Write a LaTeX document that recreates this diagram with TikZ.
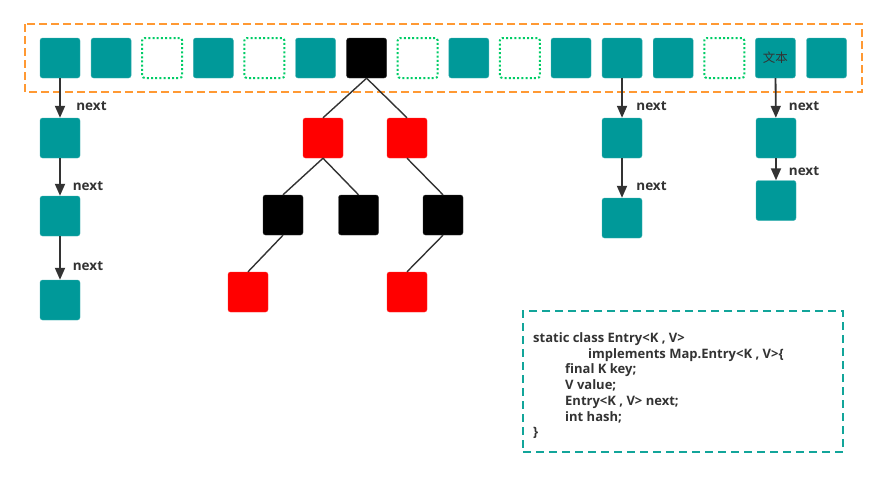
\documentclass[tikz,border=0pt]{standalone}
\usepackage{fontspec}
\setmainfont{Open Sans}
\newfontfamily\cjk{Noto Sans CJK SC}
\usetikzlibrary{arrows.meta}

\definecolor{bucketteal}{HTML}{009999}
\definecolor{slotgreen}{HTML}{00CC66}
\definecolor{tableorange}{HTML}{FF9933}
\definecolor{codeteal}{HTML}{12A59A}
\definecolor{linkgray}{HTML}{333333}

\begin{document}
\begin{tikzpicture}[x=1pt,y=-1pt,
  entry/.style={draw=bucketteal!75!white, fill=bucketteal, rounded corners=2.5pt,
    minimum size=40pt, inner sep=0pt},
  slot/.style={draw=slotgreen, line width=2pt, dash pattern=on 2pt off 2.2pt,
    rounded corners=2.5pt, minimum size=40pt, inner sep=0pt},
  blackbox/.style={entry, draw=black!80, fill=black},
  redbox/.style={entry, draw=red!80, fill=red},
  nextarrow/.style={draw=linkgray, line width=1.8pt,
    -{Triangle[length=12pt,width=10pt]}},
  treeedge/.style={draw=linkgray, line width=1.4pt},
  nextlabel/.style={text=linkgray, font=\bfseries\fontsize{13.5}{13.5}\selectfont, inner sep=0pt}]
  \useasboundingbox (0,0) rectangle (887,477);

  % table
  \draw [tableorange, line width=2pt, dash pattern=on 8pt off 4pt] (25,24) rectangle (862,92);
  \foreach \i/\k in {1/entry,2/entry,3/slot,4/entry,5/slot,6/entry,7/blackbox,8/slot,
      9/entry,10/slot,11/entry,12/entry,13/entry,14/slot,15/entry,16/entry}
    \node [\k] (b\i) at ({60+51.1*(\i-1)},58) {};
  \node [text=linkgray, font=\cjk\fontsize{12.5}{12.5}\selectfont, inner sep=0pt] (word) at (b15) {文本};

  % linked list 1
  \node [entry] (n1) at (60,138) {};
  \node [entry] (n2) at (60,216) {};
  \node [entry] (n3) at (60,300) {};
  \draw [nextarrow] (b1) -- (n1);
  \draw [nextarrow] (n1) -- (n2);
  \draw [nextarrow] (n2) -- (n3);
  \node [nextlabel] (l1) at (91.5,106) {next};
  \node [nextlabel] (l2) at (88,186) {next};
  \node [nextlabel] (l3) at (88,266) {next};

  % red-black tree
  \node [redbox] (r1) at (323,138) {};
  \node [redbox] (r2) at (407,138) {};
  \node [blackbox] (k1) at (283,215) {};
  \node [blackbox] (k2) at (358.5,215) {};
  \node [blackbox] (k3) at (443,215) {};
  \node [redbox] (r3) at (248,292) {};
  \node [redbox] (r4) at (407,292) {};
  \draw [treeedge] (b7.south) -- (r1.north);
  \draw [treeedge] (b7.south) -- (r2.north);
  \draw [treeedge] (r1.south) -- (k1.north);
  \draw [treeedge] (r1.south) -- (k2.north);
  \draw [treeedge] (r2.south) -- (k3.north);
  \draw [treeedge] (k1.south) -- (r3.north);
  \draw [treeedge] (k3.south) -- (r4.north);

  % linked lists 2 and 3
  \node [entry] (c1) at (622,138) {};
  \node [entry] (c2) at (622,218) {};
  \draw [nextarrow] (b12) -- (c1);
  \draw [nextarrow] (c1) -- (c2);
  \node [nextlabel] (l4) at (651.5,106) {next};
  \node [nextlabel] (l5) at (651.5,186) {next};
  \node [entry] (d1) at (776,138) {};
  \node [entry] (d2) at (776,200.5) {};
  \draw [nextarrow] (b15) -- (d1);
  \draw [nextarrow] (d1) -- (d2);
  \node [nextlabel] (l6) at (804,106) {next};
  \node [nextlabel] (l7) at (804,171) {next};

  % Entry class
  \node [draw=codeteal, line width=2pt, dash pattern=on 8pt off 5pt,
    minimum width=320pt, minimum height=141pt] (entryclass) at (683,381.5) {};
  \node [anchor=north west, inner sep=0pt, align=left, text=linkgray,
    font=\bfseries\fontsize{13}{15.7}\selectfont] (entrytext) at (533,332.5)
    {static class Entry<K , V>\\
     \hspace*{55pt}implements Map.Entry<K , V>\{\\
     \hspace*{32pt}final K key;\\
     \hspace*{32pt}V value;\\
     \hspace*{32pt}Entry<K , V> next;\\
     \hspace*{32pt}int hash;\\
     \}};
\end{tikzpicture}
\end{document}
